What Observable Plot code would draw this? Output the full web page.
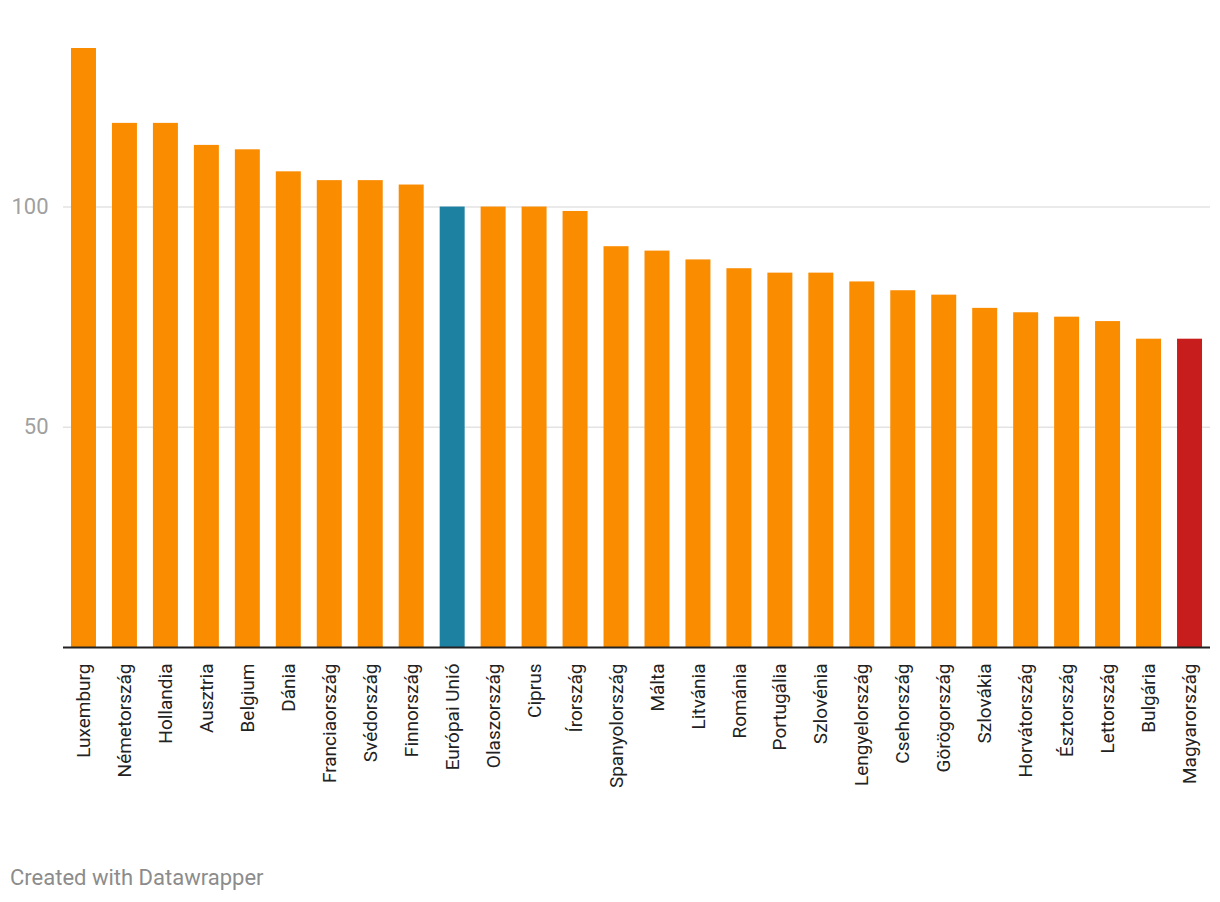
<!DOCTYPE html>
<html>
<head>
<meta charset="utf-8">
<script src="https://cdn.jsdelivr.net/npm/d3@7"></script>
<script src="https://cdn.jsdelivr.net/npm/@observablehq/plot@0.6"></script>
<style>
  html, body { margin: 0; padding: 0; background: #fff; }
  body { width: 1220px; height: 902px; position: relative; font-family: Roboto, sans-serif; }
  #chart { position: absolute; left: 0; top: 0; }
  #footer { position: absolute; left: 10px; top: 865px; font-size: 22px; color: #8c8c8c; font-family: Roboto, sans-serif; }
</style>
</head>
<body>
<div id="chart"></div>
<div id="footer">Created with Datawrapper</div>
<script>
const countries = ["Luxemburg","Németország","Hollandia","Ausztria","Belgium","Dánia","Franciaország","Svédország","Finnország","Európai Unió","Olaszország","Ciprus","Írország","Spanyolország","Málta","Litvánia","Románia","Portugália","Szlovénia","Lengyelország","Csehország","Görögország","Szlovákia","Horvátország","Észtország","Lettország","Bulgária","Magyarország"];
const values = [136,119,119,114,113,108,106,106,105,100,100,100,99,91,90,88,86,85,85,83,81,80,77,76,75,74,70,70];
const highlighted = {"Európai Unió": "EU", "Magyarország": "HU"};
const groupNames = ["other", "EU", "HU"];
const groupColors = ["#fa8c00", "#1d81a2", "#c71e1d"];
const yTicks = [50, 100];

const data = countries.map((c, i) => ({country: c, value: values[i], group: highlighted[c] || "other"}));

const chart = Plot.plot({
  width: 1220,
  height: 840,
  marginLeft: 63,
  marginRight: 10,
  marginTop: 48,
  marginBottom: 193,
  style: {fontFamily: "Roboto, sans-serif", background: "#fff"},
  x: {domain: countries, paddingInner: 0.39, paddingOuter: 0.195, round: false, label: null},
  y: {domain: [0, 136], nice: false, label: null},
  color: {domain: groupNames, range: groupColors},
  marks: [
    Plot.gridY(yTicks, {stroke: "#e3e3e3", strokeOpacity: 1, strokeWidth: 1.5}),
    Plot.axisY(yTicks, {tickSize: 0, tickPadding: 15, fontSize: 22, color: "#a0a0a0", label: null}),
    Plot.barY(data, {x: "country", y: "value", fill: "group"}),
    Plot.ruleY([0], {stroke: "#222", strokeWidth: 2}),
    Plot.axisX({tickSize: 0, tickPadding: 16, tickRotate: -90, fontSize: 19, color: "#222", label: null})
  ]
});
document.getElementById("chart").appendChild(chart);
</script>
</body>
</html>
